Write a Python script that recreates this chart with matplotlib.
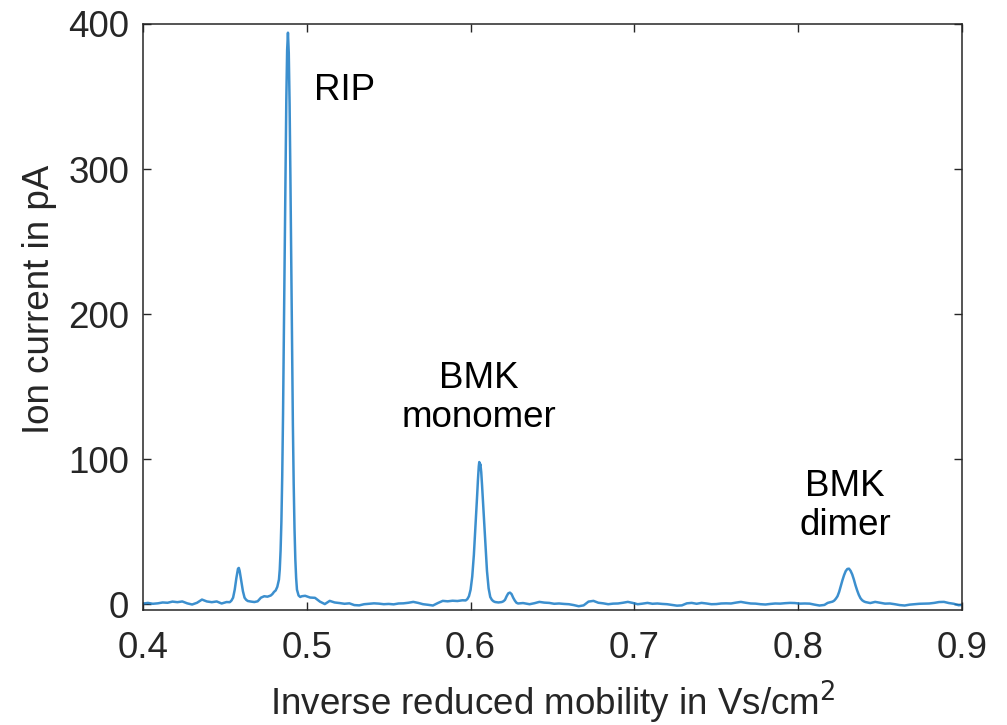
import matplotlib
matplotlib.use("Agg")
import matplotlib.pyplot as plt
import numpy as np

plt.rcParams["font.family"] = ["Liberation Sans", "DejaVu Sans"]

# ion mobility spectrum, read point by point (inverse reduced mobility, ion current in pA)
base_left_x = [0.400, 0.403, 0.406, 0.409, 0.412, 0.415, 0.418, 0.421, 0.424, 0.427,
               0.430, 0.433, 0.436, 0.439, 0.442, 0.445, 0.448, 0.451]
base_left_y = [0.4, 0.9, 0.3, 0.6, 1.2, 1.0, 1.8, 1.4, 1.9, 0.6,
               -0.2, 1.0, 3.2, 1.9, 1.4, 1.9, 0.5, 1.5]

pre_x = [0.453, 0.454, 0.455, 0.456, 0.457, 0.458, 0.4585, 0.459, 0.460, 0.461,
         0.462, 0.463, 0.464, 0.466, 0.468, 0.470, 0.472, 0.474, 0.476, 0.478, 0.479]
pre_y = [1.4, 2.5, 4.5, 10, 18, 24.5, 25, 23, 16, 9,
         4.5, 3.0, 2.2, 1.8, 1.5, 2.0, 4.5, 5.5, 5.2, 6.0, 7.0]

rip_x = [0.480, 0.481, 0.482, 0.483, 0.4835, 0.484, 0.4845, 0.485, 0.4855, 0.486,
         0.4865, 0.487, 0.4875, 0.488, 0.4885, 0.489, 0.4895, 0.490, 0.4905, 0.491,
         0.4915, 0.492, 0.4925, 0.493, 0.4935, 0.494, 0.495, 0.496, 0.497]
rip_y = [8.5, 9.5, 12, 17, 24, 37, 57, 88, 131, 183,
         241, 298, 348, 382, 394, 380, 345, 294, 235, 176,
         124, 83, 52, 31, 18, 10, 6, 5, 5.5]

base_mid_x = [0.499, 0.502, 0.505, 0.508, 0.511, 0.514, 0.517, 0.520, 0.523, 0.526,
              0.529, 0.532, 0.535, 0.538, 0.541, 0.544, 0.547, 0.550, 0.553, 0.556,
              0.559, 0.562, 0.565, 0.568, 0.571, 0.574, 0.577, 0.580, 0.583, 0.586,
              0.589, 0.592, 0.595]
base_mid_y = [5.8, 4.6, 4.4, 1.8, 0.1, 2.3, 1.2, 0.8, 0.3, 0.6,
              -0.6, -0.8, 0.0, 0.3, 0.6, 0.4, 0.0, 0.2, -0.1, 0.5,
              0.6, 1.0, 1.6, 0.9, 0.0, -0.4, -0.9, 0.8, 2.3, 2.0,
              2.4, 2.2, 2.7]

mono_x = [0.597, 0.598, 0.599, 0.600, 0.601, 0.602, 0.603, 0.604, 0.6045, 0.605,
          0.6053, 0.6057, 0.606, 0.6065, 0.607, 0.608, 0.609, 0.610, 0.611, 0.612,
          0.613, 0.614, 0.615, 0.617, 0.619, 0.620, 0.621, 0.622, 0.623, 0.624,
          0.625, 0.626, 0.627, 0.628, 0.629]
mono_y = [2.6, 3.5, 5.5, 10, 19, 34, 54, 75, 86, 95,
          98, 95.5, 96.5, 91, 82, 62, 41, 23, 11, 5,
          3, 2, 1.5, 1.2, 1.5, 2.0, 3.0, 5.5, 7.5, 8.0,
          7.0, 4.5, 2.5, 1.0, 0.5]

base_long_x = [0.632, 0.636, 0.639, 0.642, 0.645, 0.648, 0.651, 0.654, 0.657, 0.660,
               0.663, 0.666, 0.669, 0.672, 0.675, 0.678, 0.681, 0.684, 0.687, 0.690,
               0.693, 0.696, 0.699, 0.702, 0.705, 0.708, 0.711, 0.714, 0.717, 0.720,
               0.723, 0.726, 0.729, 0.732, 0.735, 0.738, 0.741, 0.744, 0.747, 0.750,
               0.753, 0.756, 0.759, 0.762, 0.765, 0.768, 0.771, 0.774, 0.777, 0.780,
               0.783, 0.786, 0.789, 0.792, 0.795, 0.798, 0.801, 0.804, 0.807, 0.810,
               0.813, 0.816, 0.818]
base_long_y = [0.8, 0.0, 0.7, 1.6, 1.1, 0.9, 0.3, 0.5, 0.2, 0.0,
               -0.6, -1.4, -0.8, 1.8, 2.3, 1.0, 0.6, 0.0, 0.4, 0.5,
               1.0, 1.6, 0.9, 0.0, 0.4, 0.9, 0.3, 0.5, 0.2, 0.0,
               -0.5, -1.0, -0.8, 0.6, 0.9, 0.3, 0.9, 0.5, 0.0, 0.1,
               0.5, 0.6, 0.5, 1.1, 1.6, 1.0, 0.5, 0.4, 0.0, -0.2,
               0.2, 0.5, 0.4, 0.7, 0.9, 0.8, 0.4, 0.5, 0.4, -0.3,
               -0.9, -0.5, 0.9]

dimer_x = [0.820, 0.821, 0.822, 0.823, 0.824, 0.825, 0.826, 0.827, 0.828, 0.829,
           0.830, 0.831, 0.832, 0.833, 0.834, 0.835, 0.836, 0.837, 0.838, 0.839,
           0.840, 0.841]
dimer_y = [1.5, 1.8, 2.5, 3.8, 5.5, 8.5, 12.5, 16.5, 20, 22.8,
           24.3, 24.5, 23, 20.5, 17, 13, 9.5, 6.5, 4.2, 2.8,
           2.0, 1.5]

base_right_x = [0.844, 0.847, 0.850, 0.853, 0.856, 0.859, 0.862, 0.865, 0.868, 0.871,
                0.874, 0.877, 0.880, 0.883, 0.886, 0.889, 0.892, 0.895, 0.898, 0.900]
base_right_y = [0.8, 1.6, 1.0, 0.4, 0.5, 0.0, -0.6, -0.9, -0.3, 0.0,
                0.3, 0.4, 0.5, 0.9, 1.5, 1.6, 0.8, 0.3, -0.7, -0.5]

peak_labels = ["RIP", "BMK\nmonomer", "BMK\ndimer"]
label_x = [0.5043, 0.6049, 0.8287]
label_y = [354, 142, 68]

mobility = np.concatenate([base_left_x, pre_x, rip_x, base_mid_x, mono_x,
                           base_long_x, dimer_x, base_right_x])
current = np.concatenate([base_left_y, pre_y, rip_y, base_mid_y, mono_y,
                          base_long_y, dimer_y, base_right_y])

fig = plt.figure(figsize=(10.07, 7.25), dpi=100)
ax = fig.add_axes([0.142, 0.1586, 0.8133, 0.8083])

ax.plot(mobility, current, color="#1a7cc6", lw=1.8, alpha=0.85,
        solid_joinstyle="round")

ax.set_xlim(0.4, 0.9)
ax.set_ylim(-4, 400)
ax.set_xticks([0.4, 0.5, 0.6, 0.7, 0.8, 0.9])
ax.set_xticklabels(["0.4", "0.5", "0.6", "0.7", "0.8", "0.9"])
ax.set_yticks([0, 100, 200, 300, 400])

for side in ax.spines.values():
    side.set_color("#262626")
    side.set_linewidth(1.1)
ax.tick_params(direction="in", length=5.5, width=1.0, color="#262626",
               top=True, right=True, labelsize=26.5, labelcolor="#262626")
ax.tick_params(axis="x", pad=15)
ax.tick_params(axis="y", pad=10)

ax.set_xlabel("Inverse reduced mobility in Vs/cm$^2$", fontsize=26.5, color="#262626")
ax.set_ylabel("Ion current in pA", fontsize=26.5, color="#262626")
ax.xaxis.set_label_coords(0.5, -0.118)
ax.yaxis.set_label_coords(-0.126, 0.53)
ax.yaxis.label.set_va("center")

for text, tx, ty in zip(peak_labels, label_x, label_y):
    ha = "left" if text == "RIP" else "center"
    ax.text(tx, ty, text, fontsize=26.5, ha=ha, va="center", linespacing=1.15,
            color="black")

fig.savefig("out.png", dpi=100)
